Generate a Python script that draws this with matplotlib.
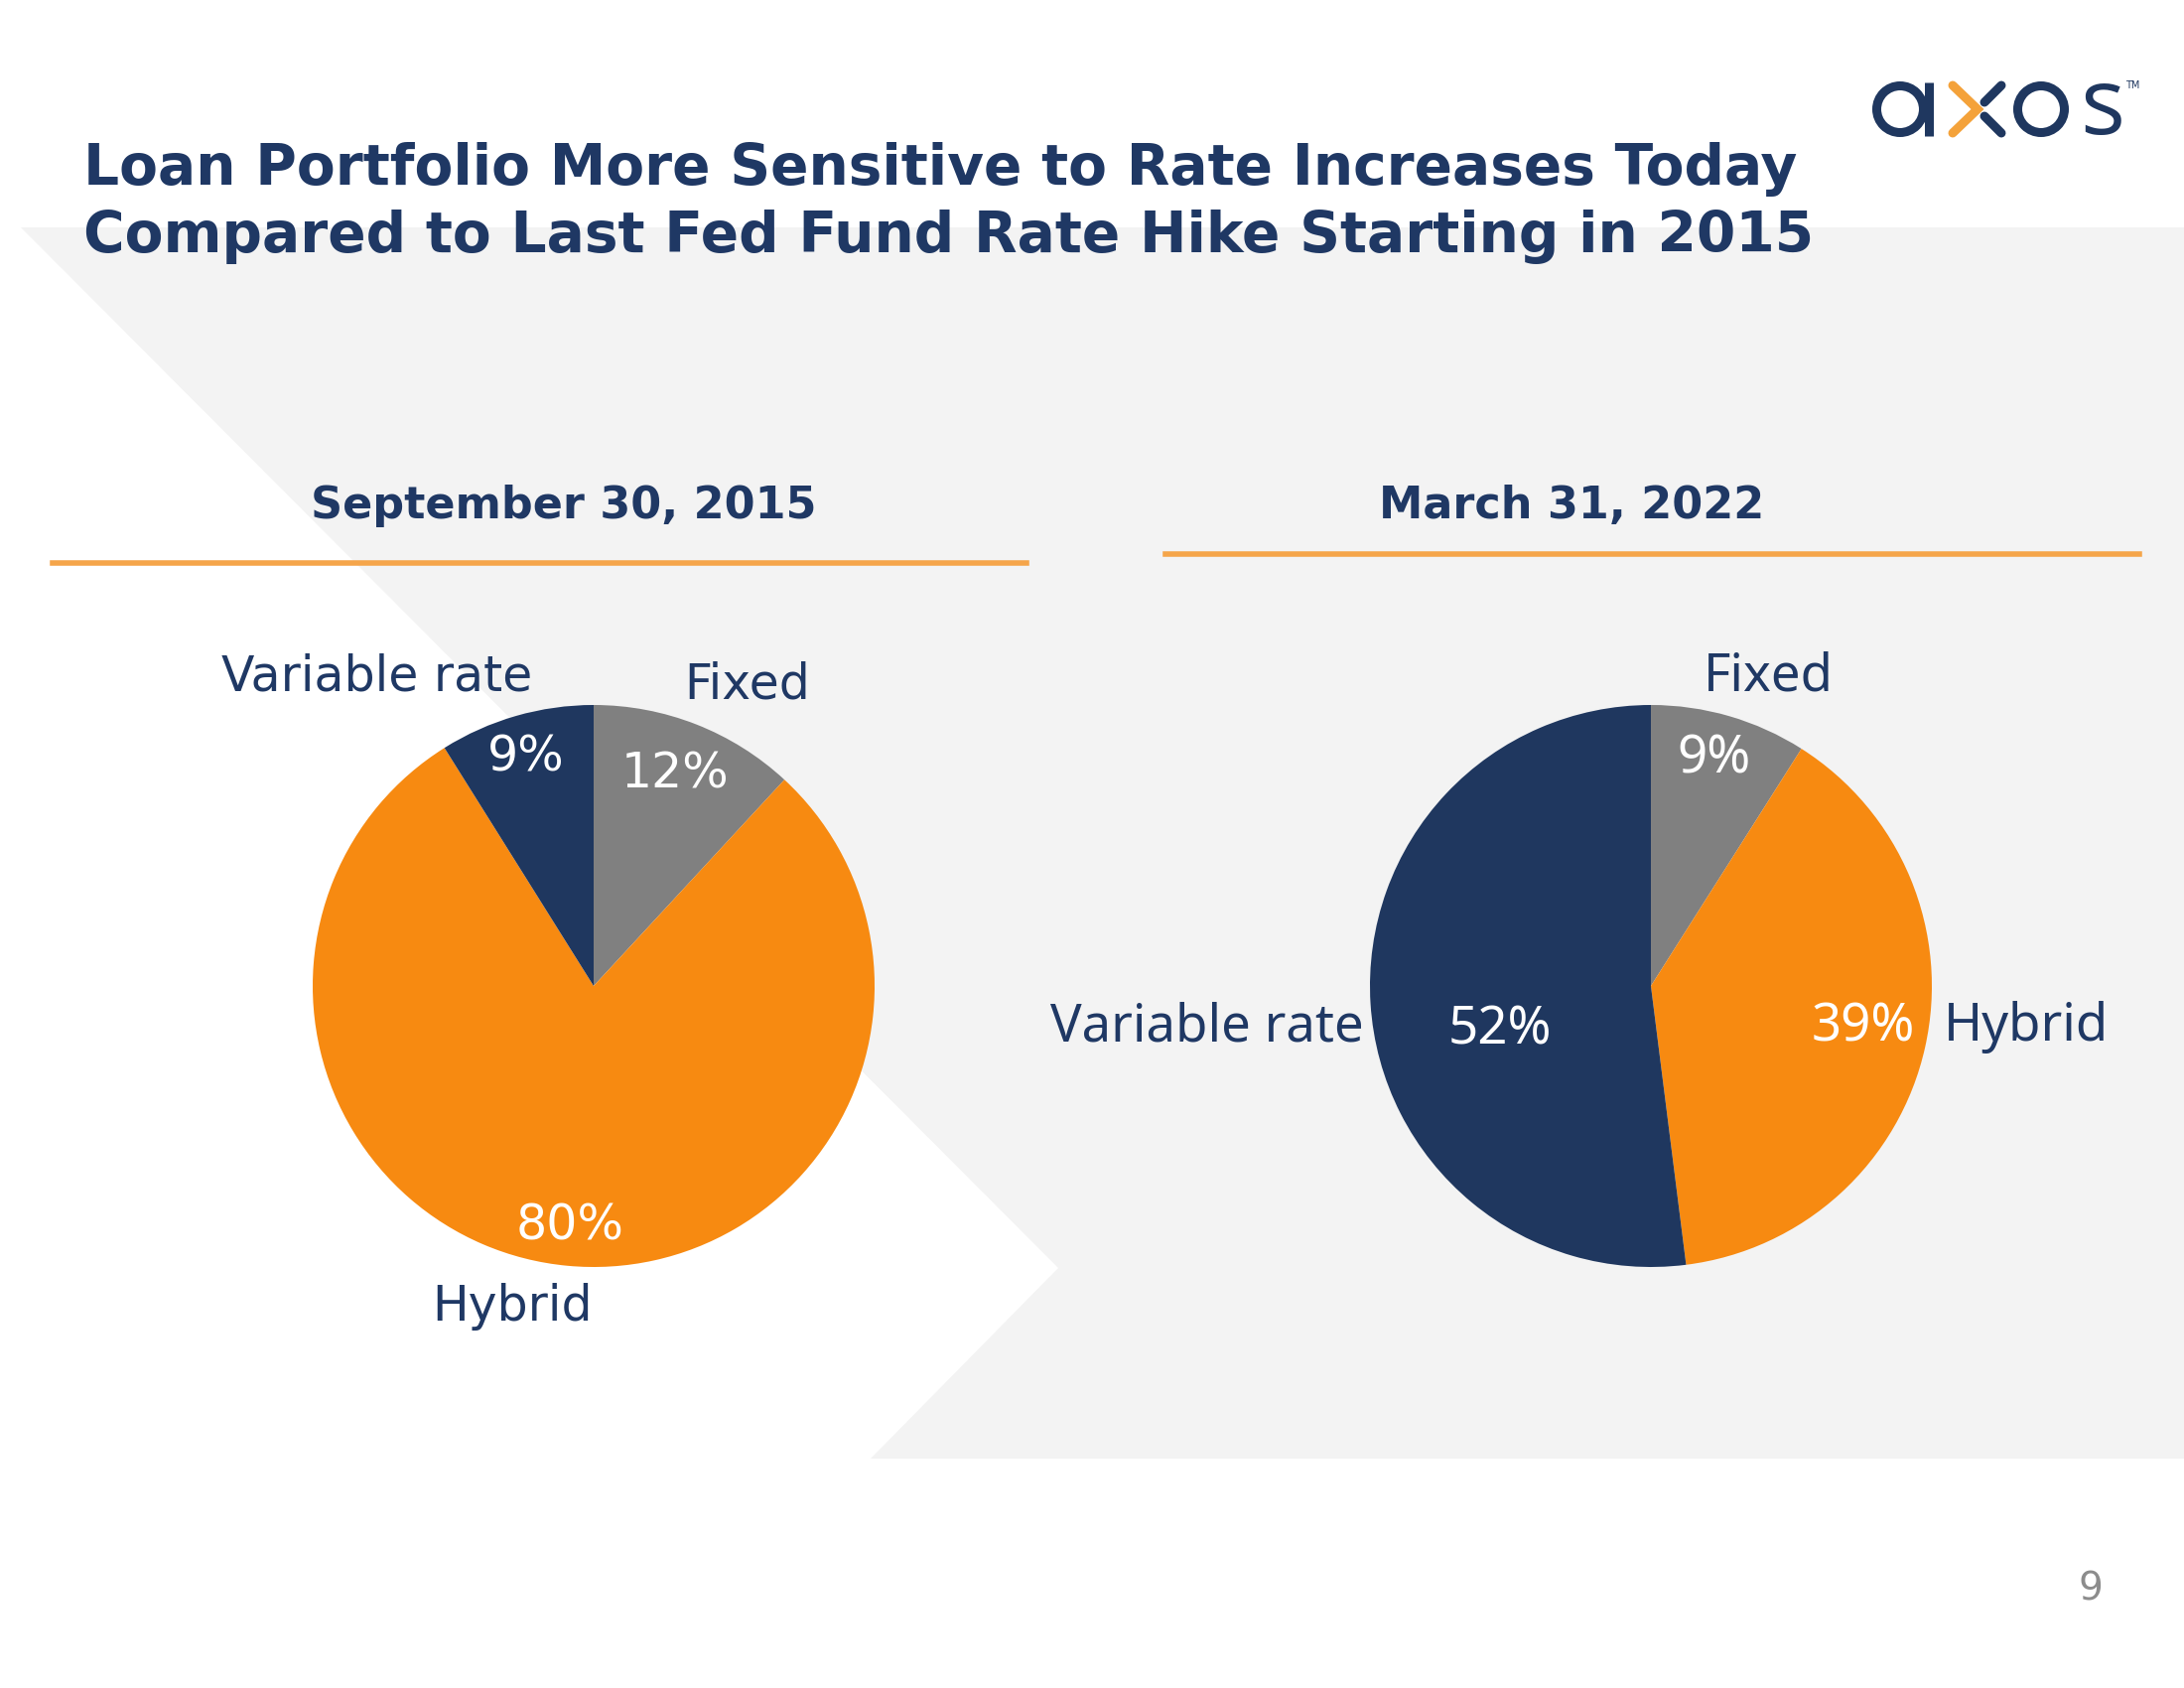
import matplotlib
matplotlib.use("Agg")
import matplotlib.pyplot as plt
from matplotlib.patches import Polygon, Circle

# chart data
categories_2015 = ["Fixed", "Hybrid", "Variable rate"]
values_2015 = [12, 80, 9]
categories_2022 = ["Fixed", "Hybrid", "Variable rate"]
values_2022 = [9, 39, 52]
title_lines = ["Loan Portfolio More Sensitive to Rate Increases Today",
               "Compared to Last Fed Fund Rate Hike Starting in 2015"]
date_2015 = "September 30, 2015"
date_2022 = "March 31, 2022"

NAVY = "#1F375F"
ORANGE = "#F78A11"
GRAY = "#808080"
LINE_ORANGE = "#F5A54A"
BG = "#F3F3F3"
TEXT_NAVY = "#1F3864"

W, H = 2200, 1700


def px_axes(fig, cx, cy, r):
    # axes box (in figure fraction) for a pie of radius r px centred on (cx, cy)
    return fig.add_axes([(cx - r) / W, 1 - (cy + r) / H, 2 * r / W, 2 * r / H])


def draw_pie(fig, cx, cy, r, values, labels, label_pos, pct_pos, family, size):
    ax = px_axes(fig, cx, cy, r)
    wedges, texts, pcts = ax.pie(values, labels=labels, colors=[GRAY, ORANGE, NAVY],
                                 startangle=90, counterclock=False,
                                 autopct=lambda p: "", wedgeprops=dict(linewidth=0))
    ax.set_xlim(-1, 1)
    ax.set_ylim(-1, 1)
    ax.set_facecolor("none")
    for t, pos in zip(texts, label_pos):
        t.set_position(pos)
        t.set_ha("center")
        t.set_va("center")
        t.set_color(TEXT_NAVY)
        t.set_fontsize(size)
        t.set_family(family)
    for t, v, pos in zip(pcts, values, pct_pos):
        t.set_text(f"{v}%")
        t.set_position(pos)
        t.set_ha("center")
        t.set_va("center")
        t.set_color("white")
        t.set_fontsize(size)
        t.set_family(family)
    return ax


def draw_logo(bg):
    lw = 9 * 72 / 200
    # a
    bg.add_patch(Circle((1914, 110), 23.5, fill=False, lw=lw, ec=NAVY))
    bg.plot([1943, 1943], [83, 137], color=NAVY, lw=lw, solid_capstyle="butt")
    # x
    bg.plot([1967, 1992, 1967], [86, 110, 134], color="#F4A23A", lw=lw,
            solid_capstyle="round", solid_joinstyle="miter")
    bg.plot([2016, 1999], [86, 103], color=NAVY, lw=lw, solid_capstyle="round")
    bg.plot([1999, 2016], [117, 134], color=NAVY, lw=lw, solid_capstyle="round")
    # o
    bg.add_patch(Circle((2056, 110), 23.5, fill=False, lw=lw, ec=NAVY))
    # s
    bg.text(2118, 110, "s", fontsize=34, color=NAVY, family="Open Sans",
            ha="center", va="center")
    bg.text(2148, 86, "TM", fontsize=3.5, color=NAVY, ha="center", va="center")


def main():
    fig = plt.figure(figsize=(11, 8.5), dpi=200)
    fig.patch.set_facecolor("white")

    # background layer in pixel coordinates
    bg = fig.add_axes([0, 0, 1, 1])
    bg.set_xlim(0, W)
    bg.set_ylim(H, 0)
    bg.axis("off")
    bg.add_patch(Polygon([(21, 229), (W, 229), (W, 1469), (877, 1469), (1066, 1277)],
                         closed=True, fc=BG, ec="none"))
    bg.plot([53, 1034], [567, 567], color=LINE_ORANGE, lw=2)
    bg.plot([1174, 2155], [558, 558], color=LINE_ORANGE, lw=2)
    draw_logo(bg)

    # titles
    bg.text(84, 170, title_lines[0], fontsize=20.4, fontweight="bold", color=TEXT_NAVY,
            va="center", ha="left")
    bg.text(84, 238, title_lines[1], fontsize=20.4, fontweight="bold", color=TEXT_NAVY,
            va="center", ha="left")
    bg.text(568, 509, date_2015, fontsize=16, fontweight="bold", color=TEXT_NAVY,
            va="center", ha="center")
    bg.text(1583, 509, date_2022, fontsize=16, fontweight="bold", color=TEXT_NAVY,
            va="center", ha="center")
    bg.text(2106, 1600, "9", fontsize=14, color="#8C8C8C", va="center", ha="center")

    # left pie: Sep 30, 2015
    draw_pie(fig, 598, 993, 283, values_2015, categories_2015,
             label_pos=[(0.548, 1.074), (-0.29, -1.141), (-0.77, 1.10)],
             pct_pos=[(0.29, 0.756), (-0.085, -0.855), (-0.24, 0.813)],
             family="DejaVu Sans", size=17.6)

    # right pie: Mar 31, 2022
    draw_pie(fig, 1663, 993, 283, values_2022, categories_2022,
             label_pos=[(0.42, 1.099), (1.336, -0.148), (-1.58, -0.148)],
             pct_pos=[(0.223, 0.806), (0.756, -0.148), (-0.537, -0.159)],
             family="Noto Sans", size=19)

    fig.savefig("out.png", dpi=200)


if __name__ == "__main__":
    main()
